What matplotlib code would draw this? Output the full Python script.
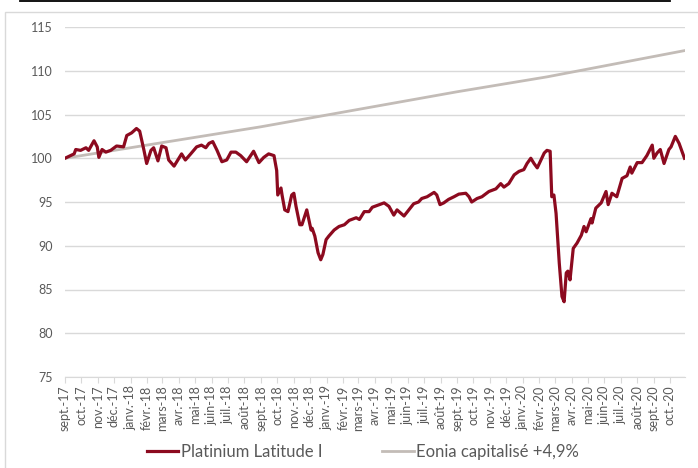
import pandas as pd
import numpy as np
import matplotlib.pyplot as plt
from matplotlib.lines import Line2D
from matplotlib.patches import Rectangle

plt.rcParams['font.family'] = ['Lato', 'DejaVu Sans']

# Platinium Latitude I (base 100)
plat_dates = [
    "2017-09-01", "2017-09-18", "2017-09-21", "2017-09-30", "2017-10-10", "2017-10-15",
    "2017-10-25", "2017-10-31", "2017-11-03", "2017-11-09", "2017-11-16", "2017-11-25",
    "2017-12-06", "2017-12-19", "2017-12-25", "2018-01-03", "2018-01-12", "2018-01-18",
    "2018-01-26", "2018-01-31", "2018-02-08", "2018-02-13", "2018-02-21", "2018-02-28",
    "2018-03-08", "2018-03-13", "2018-03-23", "2018-03-28", "2018-04-06", "2018-04-13",
    "2018-04-23", "2018-05-04", "2018-05-13", "2018-05-21", "2018-05-27", "2018-06-03",
    "2018-06-11", "2018-06-20", "2018-06-29", "2018-07-07", "2018-07-16", "2018-07-25",
    "2018-08-05", "2018-08-18", "2018-08-28", "2018-09-06", "2018-09-15", "2018-09-25",
    "2018-09-30", "2018-10-02", "2018-10-08", "2018-10-10", "2018-10-15", "2018-10-21",
    "2018-10-28", "2018-11-01", "2018-11-05", "2018-11-12", "2018-11-16", "2018-11-25",
    "2018-12-03", "2018-12-05", "2018-12-10", "2018-12-16", "2018-12-21", "2018-12-25",
    "2018-12-31", "2019-01-05", "2019-01-15", "2019-01-24", "2019-02-03", "2019-02-12",
    "2019-02-25", "2019-03-03", "2019-03-12", "2019-03-21", "2019-03-27", "2019-04-09",
    "2019-04-18", "2019-04-27", "2019-05-06", "2019-05-12", "2019-05-25", "2019-06-03",
    "2019-06-12", "2019-06-21", "2019-06-27", "2019-07-07", "2019-07-20", "2019-07-25",
    "2019-07-31", "2019-08-07", "2019-08-16", "2019-08-26", "2019-09-04", "2019-09-17",
    "2019-09-23", "2019-09-28", "2019-10-08", "2019-10-17", "2019-10-30", "2019-11-12",
    "2019-11-21", "2019-11-27", "2019-12-06", "2019-12-16", "2019-12-25", "2020-01-03",
    "2020-01-09", "2020-01-16", "2020-01-22", "2020-01-28", "2020-02-04", "2020-02-10",
    "2020-02-15", "2020-02-21", "2020-02-24", "2020-02-28", "2020-03-03", "2020-03-09",
    "2020-03-14", "2020-03-18", "2020-03-22", "2020-03-25", "2020-03-29", "2020-04-04",
    "2020-04-11", "2020-04-19", "2020-04-24", "2020-04-28", "2020-05-07", "2020-05-09",
    "2020-05-16", "2020-05-26", "2020-06-04", "2020-06-08", "2020-06-15", "2020-06-24",
    "2020-07-04", "2020-07-13", "2020-07-19", "2020-07-22", "2020-08-01", "2020-08-10",
    "2020-08-19", "2020-08-29", "2020-09-01", "2020-09-07", "2020-09-13", "2020-09-20",
    "2020-09-29", "2020-10-03", "2020-10-11", "2020-10-18", "2020-10-24", "2020-10-28",
]
plat_values = [
    100.0, 100.5, 101.0, 100.9, 101.2, 100.9,
    102.0, 101.3, 100.1, 101.0, 100.7, 100.9,
    101.4, 101.3, 102.6, 102.9, 103.4, 103.1,
    100.9, 99.4, 100.9, 101.2, 99.7, 101.4,
    101.2, 99.8, 99.1, 99.6, 100.5, 99.8,
    100.5, 101.3, 101.5, 101.2, 101.7, 101.9,
    100.9, 99.6, 99.8, 100.7, 100.7, 100.3,
    99.6, 100.8, 99.5, 100.1, 100.5, 100.3,
    98.6, 95.8, 96.6, 95.8, 94.1, 93.9,
    95.8, 96.0, 94.5, 92.4, 92.4, 94.1,
    91.8, 92.0, 91.1, 89.2, 88.4, 89.0,
    90.7, 91.1, 91.8, 92.2, 92.4, 92.9,
    93.2, 93.0, 93.9, 93.9, 94.4, 94.7,
    94.9, 94.5, 93.5, 94.1, 93.4, 94.1,
    94.8, 95.0, 95.4, 95.6, 96.1, 95.8,
    94.7, 94.9, 95.3, 95.6, 95.9, 96.0,
    95.6, 95.0, 95.4, 95.6, 96.2, 96.5,
    97.1, 96.7, 97.1, 98.1, 98.5, 98.7,
    99.4, 100.0, 99.4, 98.9, 99.8, 100.6,
    100.9, 100.8, 95.6, 95.8, 93.7, 88.0,
    84.2, 83.6, 86.9, 87.1, 86.1, 89.7,
    90.3, 91.2, 92.2, 91.6, 93.1, 92.6,
    94.3, 94.9, 96.2, 94.7, 96.0, 95.6,
    97.7, 98.0, 99.0, 98.3, 99.5, 99.5,
    100.3, 101.5, 100.0, 100.6, 101.0, 99.4,
    101.0, 101.3, 102.5, 101.7, 100.7, 100.0,
]

# Eonia capitalisé
eonia_dates = ["2017-09-01", "2018-09-01", "2019-09-01", "2020-02-15", "2020-10-28"]
eonia_values = [100.0, 103.6, 107.6, 109.3, 112.3]

month_names = ["sept.", "oct.", "nov.", "déc.", "janv.", "févr.", "mars",
               "avr.", "mai", "juin", "juil.", "août"]

plat_x = pd.to_datetime(plat_dates)
eonia_x = pd.to_datetime(eonia_dates)
ticks = pd.date_range("2017-09-01", "2020-10-01", freq="MS")
tick_labels = [f"{month_names[(d.month - 9) % 12]}-{d.strftime('%y')}" for d in ticks]

fig = plt.figure(figsize=(6.98, 4.68), dpi=100)
ax = fig.add_axes([65 / 698, 1 - 377 / 468, 620 / 698, 350 / 468])

# chart frame and cut title underline
fig.add_artist(Rectangle((5 / 698, -0.1), 1.2, 1 - 12 / 468 + 0.1, transform=fig.transFigure,
                         fill=False, edgecolor='#d9d9d9', linewidth=1.0))
fig.add_artist(Line2D([20 / 698, 670 / 698], [0.998, 0.998], transform=fig.transFigure,
                      color='black', linewidth=1.3))

ax.plot(eonia_x, eonia_values, color='#c3bcb7', linewidth=2.0, label='Eonia capitalisé +4,9%', zorder=3)
ax.plot(plat_x, plat_values, color='#8c0a1f', linewidth=2.3, label='Platinium Latitude I', zorder=4)

ax.set_ylim(75, 115)
ax.set_yticks(np.arange(75, 116, 5))
ax.set_xlim(pd.Timestamp("2017-09-01"), pd.Timestamp("2020-10-29"))
ax.set_xticks(ticks)
ax.set_xticklabels(tick_labels, rotation=90, fontsize=9, color='#595959')
ax.tick_params(axis='y', length=0, labelsize=9, labelcolor='#595959', pad=9)
ax.tick_params(axis='x', length=4, color='#d9d9d9', pad=2)
ax.grid(axis='y', color='#d9d9d9', linewidth=1.0)
for s in ['top', 'right', 'left']:
    ax.spines[s].set_visible(False)
ax.spines['bottom'].set_color('#d9d9d9')

h, l = ax.get_legend_handles_labels()
fig.legend(h[::-1], l[::-1], loc='center', bbox_to_anchor=(0.52, 0.034), ncol=2, frameon=False,
           fontsize=12, handlelength=1.9, handletextpad=0.15, columnspacing=3.6,
           labelcolor='#595959')

plt.savefig('out.png', dpi=100)
